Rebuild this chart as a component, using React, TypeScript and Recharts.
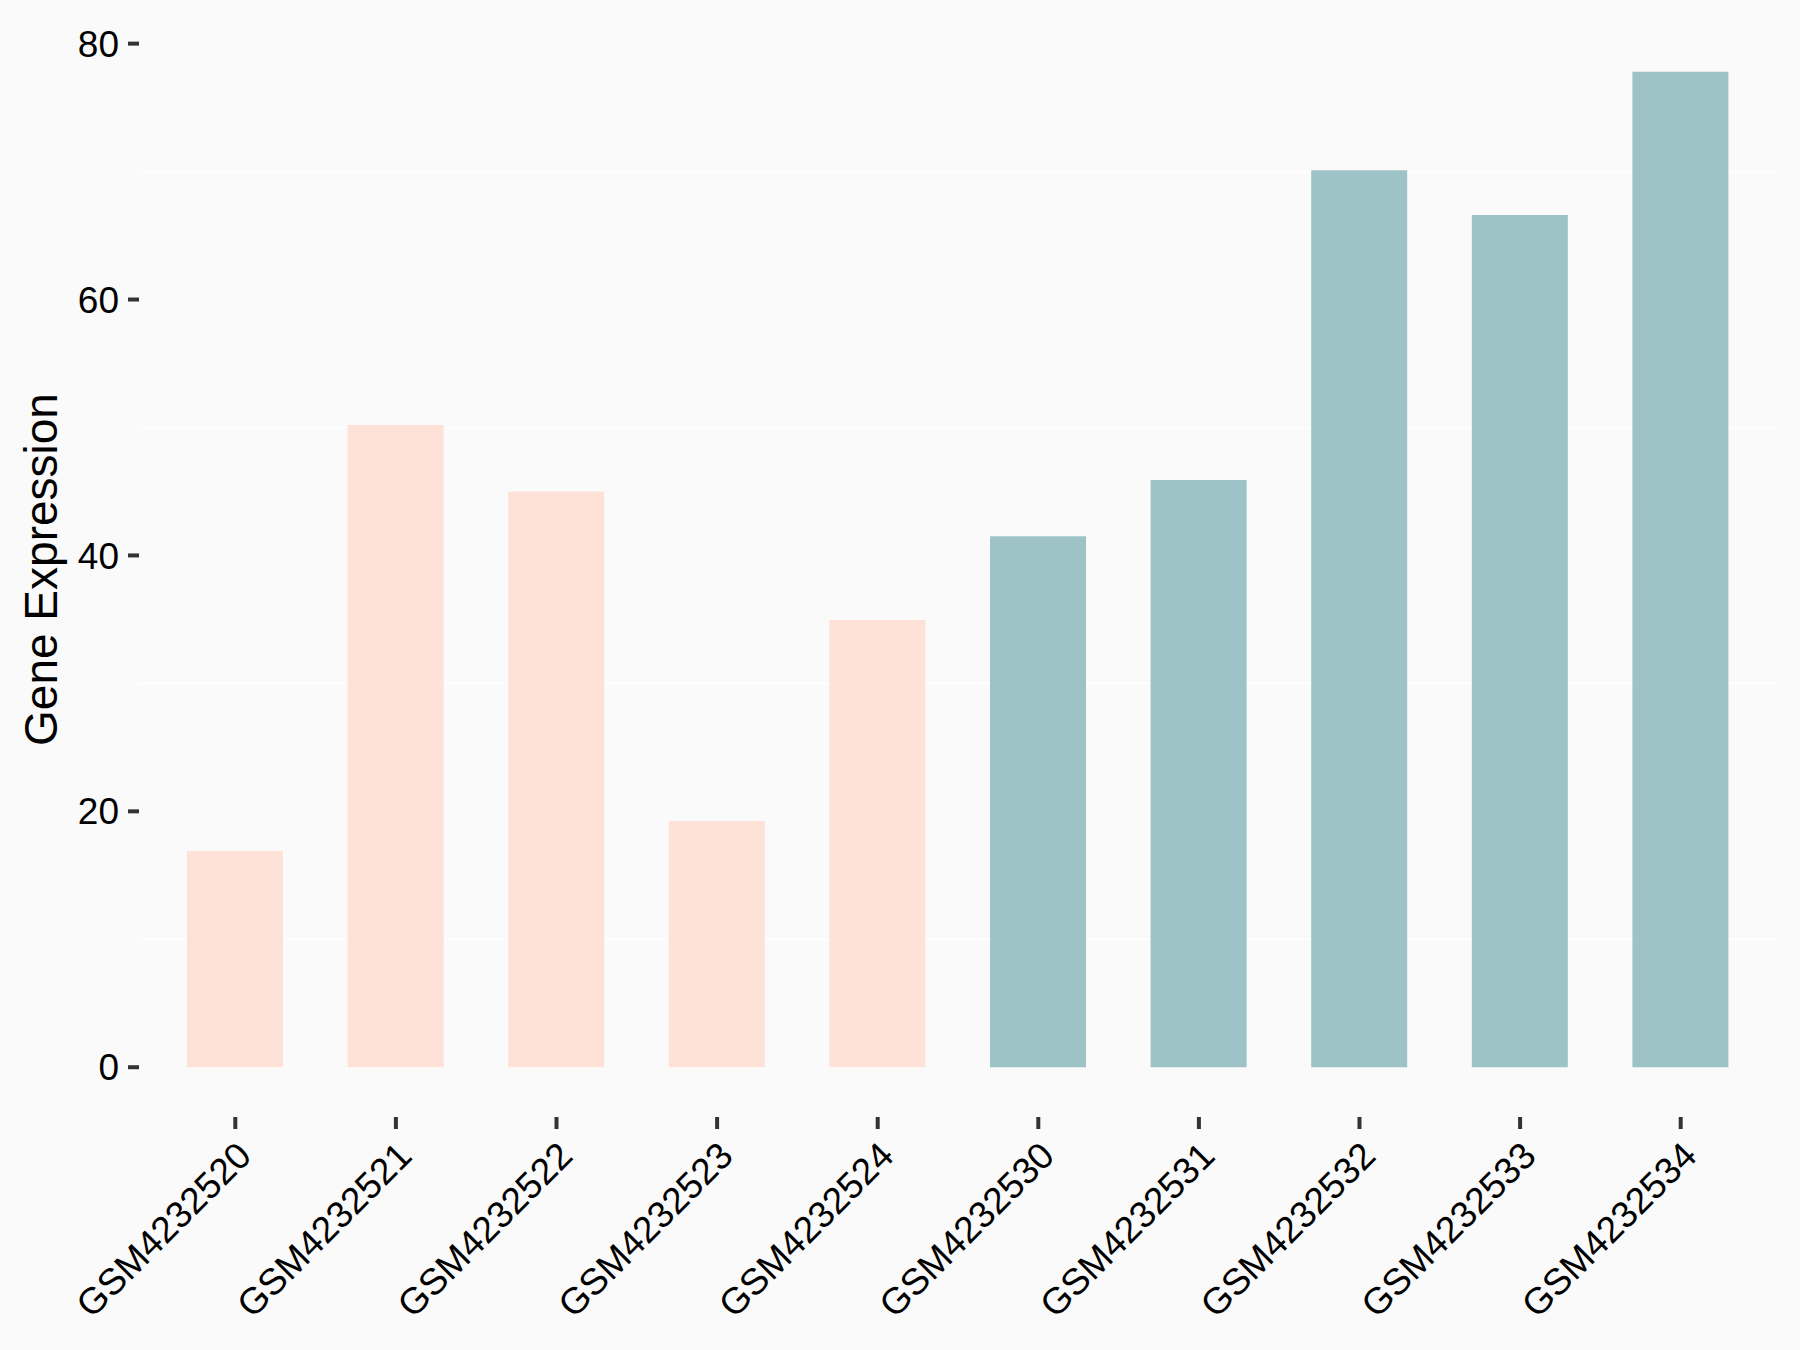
import { BarChart, Bar, XAxis, YAxis, CartesianGrid, Cell, Label } from 'recharts';

const samples = [
  'GSM4232520', 'GSM4232521', 'GSM4232522', 'GSM4232523', 'GSM4232524',
  'GSM4232530', 'GSM4232531', 'GSM4232532', 'GSM4232533', 'GSM4232534',
];
const expression = [16.9, 50.2, 45.0, 19.25, 34.95, 41.5, 45.9, 70.1, 66.6, 77.8];
const groups = ['A', 'A', 'A', 'A', 'A', 'B', 'B', 'B', 'B', 'B'];
const yTicks = [0, 20, 40, 60, 80];
const minorTicks = [10, 30, 50, 70];

const groupColors: Record<string, string> = { A: '#FEE1D7', B: '#9DC3C7' };
const FONT = '"Liberation Sans", Arial, sans-serif';

const data = samples.map((s, i) => ({ sample: s, value: expression[i], group: groups[i] }));

const XTick = (props: any) => {
  const { x, y, payload } = props;
  return (
    <g transform={`translate(${x + 18},${y + 29}) rotate(-45)`}>
      <text textAnchor="end" fill="#000" fontSize={37} fontFamily={FONT}>
        {payload.value}
      </text>
    </g>
  );
};

export default function App() {
  return (
    <div style={{ position: 'absolute', left: 0, top: 0, width: 1800, height: 1350, background: '#FAFAFA' }}>
      <BarChart
        width={1800}
        height={1350}
        data={data}
        margin={{ top: 22, right: 23, left: 0, bottom: 0 }}
      >
        <CartesianGrid
          vertical={false}
          stroke="#FFFFFF"
          strokeWidth={1.6}
          horizontalValues={minorTicks}
        />
        <XAxis
          dataKey="sample"
          height={233}
          padding={{ left: 16, right: 16 }}
          axisLine={false}
          tickSize={12}
          tickMargin={0}
          tickLine={{ stroke: '#333333', strokeWidth: 4 }}
          tick={<XTick />}
          interval={0}
        />
        <YAxis
          width={139}
          domain={[-3.89, 81.69]}
          ticks={yTicks}
          allowDataOverflow
          axisLine={false}
          tickSize={11}
          tickMargin={9}
          tickLine={{ stroke: '#333333', strokeWidth: 4 }}
          tick={{ fill: '#000', fontSize: 37, fontFamily: FONT }}
        >
          <Label
            content={({ viewBox }: any) => {
              const cy = viewBox.y + viewBox.height / 2;
              return (
                <text
                  x={57}
                  y={cy}
                  transform={`rotate(-90, 57, ${cy})`}
                  textAnchor="middle"
                  fill="#000"
                  fontSize={46}
                  fontFamily={FONT}
                >
                  Gene Expression
                </text>
              );
            }}
          />
        </YAxis>
        <Bar dataKey="value" barSize={96} isAnimationActive={false}>
          {data.map((d, i) => (
            <Cell key={i} fill={groupColors[d.group]} />
          ))}
        </Bar>
      </BarChart>
    </div>
  );
}
